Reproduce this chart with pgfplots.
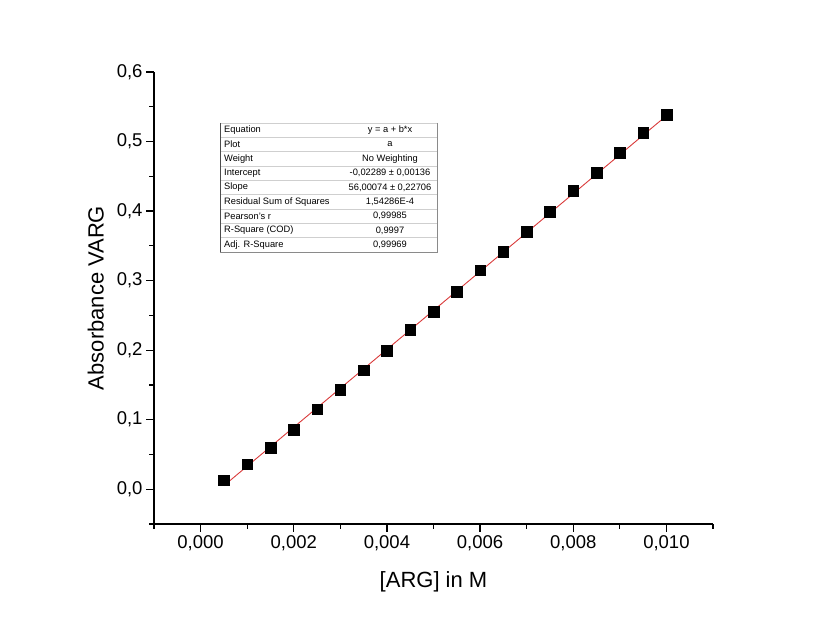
\documentclass[border=0pt]{standalone}
\usepackage{fontspec}
\setmainfont{Liberation Sans}
\usepackage{pgfplots}
\pgfplotsset{compat=1.18}
\definecolor{fitred}{HTML}{D93A3A}
\definecolor{tblline}{HTML}{CFCFCF}
\definecolor{tblborder}{HTML}{8A8A8A}

\begin{document}
\begin{tikzpicture}[x=1bp,y=1bp]
\begin{axis}[
  at={(154bp,96bp)}, anchor=south west,
  scale only axis, width=559bp, height=452bp,
  xmin=-0.001, xmax=0.011, ymin=-0.05, ymax=0.6,
  axis lines*=left, axis line style={line width=1.3bp},
  tick align=outside, major tick length=8bp, minor tick length=5bp,
  tick style={line width=1.2bp, black},
  xtick={0,0.002,0.004,0.006,0.008,0.010},
  minor xtick={-0.001,0.001,0.003,0.005,0.007,0.009,0.011},
  ytick={0,0.1,0.2,0.3,0.4,0.5,0.6},
  minor ytick={-0.05,0.05,0.15,0.25,0.35,0.45,0.55},
  scaled x ticks=false, scaled y ticks=false,
  xticklabel style={/pgf/number format/.cd, fixed, fixed zerofill, precision=3, use comma, assume math mode=true},
  yticklabel style={/pgf/number format/.cd, fixed, fixed zerofill, precision=1, use comma, assume math mode=true},
  tick label style={font=\fontsize{18.5bp}{20bp}\selectfont},
  label style={font=\fontsize{22bp}{24bp}\selectfont},
  xlabel={[ARG] in M}, ylabel={Absorbance VARG},
  xlabel style={yshift=-14bp}, ylabel style={yshift=6bp},
  clip=false]
  \addplot[fitred, line width=0.9bp] coordinates {(0.0005,0.00511) (0.010,0.53712)};
  \addplot[only marks, mark=square*, mark size=5.3bp, black] coordinates {
    (0.0005,0.013) (0.0010,0.036) (0.0015,0.060) (0.0020,0.086)
    (0.0025,0.115) (0.0030,0.143) (0.0035,0.171) (0.0040,0.199)
    (0.0045,0.229) (0.0050,0.255) (0.0055,0.284) (0.0060,0.315)
    (0.0065,0.342) (0.0070,0.370) (0.0075,0.399) (0.0080,0.429)
    (0.0085,0.455) (0.0090,0.484) (0.0095,0.513) (0.0100,0.539)};
\end{axis}
% fit results table
\fill[white] (220,368) rectangle (437,497);
\foreach \i in {1,...,8} {
  \draw[tblline, line width=0.6bp] (220,{497-\i*14.333}) -- (437,{497-\i*14.333});
}
\draw[tblborder, line width=0.7bp] (437,497) -- (437,368) -- (220,368);
\draw[tblline, line width=0.6bp] (220,497) -- (437,497);
\draw[black!70, line width=0.9bp] (220,497) -- (220,368);
\begin{scope}[every node/.style={font=\fontsize{9.3bp}{10bp}\selectfont, inner sep=0pt}]
\foreach \l/\r [count=\i] in {{Equation}/{y = a + b*x}, {Plot}/{a}, {Weight}/{No Weighting},
    {Intercept}/{-0,02289 ± 0,00136}, {Slope}/{56,00074 ± 0,22706},
    {Residual Sum of Squares}/{1,54286E-4}, {Pearson's r}/{0,99985},
    {R-Square (COD)}/{0,9997}, {Adj. R-Square}/{0,99969}} {
  \node[anchor=west] at (224,{497-(\i-0.5)*14.333}) {\l};
  \node at (390,{497-(\i-0.5)*14.333}) {\r};
}
\end{scope}
\pgfresetboundingbox
\path[use as bounding box] (0,0) rectangle (817,620);
\end{tikzpicture}
\end{document}
